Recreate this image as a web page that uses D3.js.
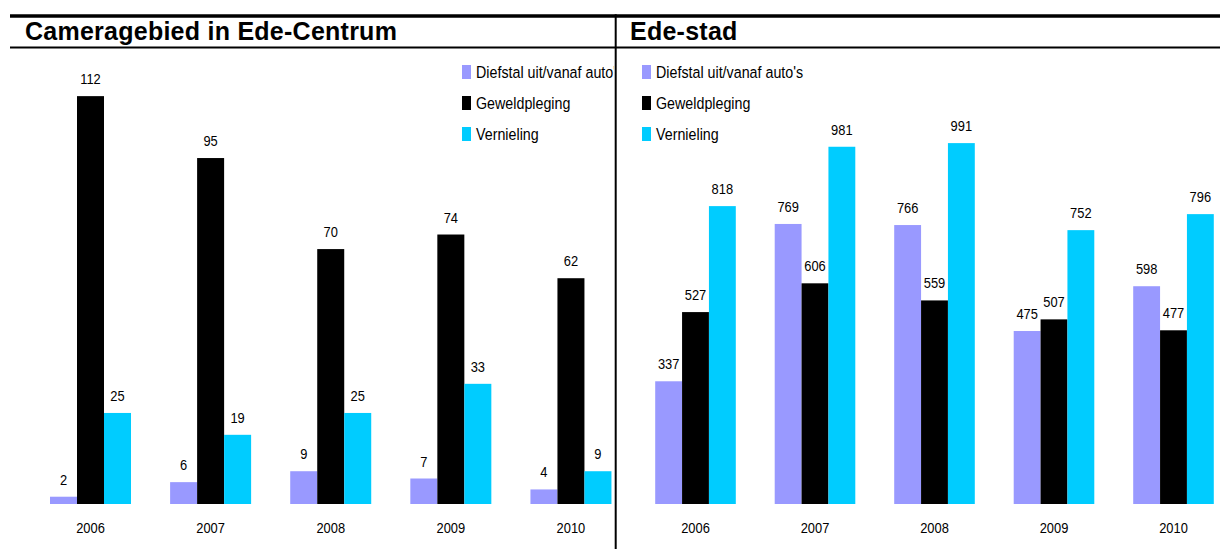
<!DOCTYPE html>
<html>
<head>
<meta charset="utf-8">
<script src="https://cdn.jsdelivr.net/npm/d3@7"></script>
<style>
  body { margin: 0; background: #fff; }
  svg { display: block; font-family: "Liberation Sans", Arial, sans-serif; }
</style>
</head>
<body>
<svg id="chart" width="1220" height="549"></svg>
<script>
// data
var years = ["2006", "2007", "2008", "2009", "2010"]
var series = ["Diefstal uit/vanaf auto's", "Geweldpleging", "Vernieling"]
var colors = ["#9999ff", "#000000", "#00ccff"]

var centrumDiefstal   = [2, 6, 9, 7, 4]
var centrumGeweld     = [112, 95, 70, 74, 62]
var centrumVernieling = [25, 19, 25, 33, 9]

var stadDiefstal   = [337, 769, 766, 475, 598]
var stadGeweld     = [527, 606, 559, 507, 477]
var stadVernieling = [818, 981, 991, 752, 796]

var panels = [
	{title: "Cameragebied in Ede-Centrum", titleX: 25, clip: [10, 614],
	 values: [centrumDiefstal, centrumGeweld, centrumVernieling], max: 120,
	 range: [30.45, 631], legendX: 462},
	{title: "Ede-stad", titleX: 630, clip: [617, 1220],
	 values: [stadDiefstal, stadGeweld, stadVernieling], max: 1200,
	 range: [635.75, 1233.25], legendX: 642}
]

var svg = d3.select("#chart"),
	baseline = 504,
	plotTop = 67,
	sx = 0.86;

var defs = svg.append("defs")

panels.forEach(function(p, i) {

	defs.append("clipPath").attr("id", "clip" + i)
		.append("rect")
		.attr("x", p.clip[0]).attr("y", 0)
		.attr("width", p.clip[1] - p.clip[0]).attr("height", 549)

	var g = svg.append("g").attr("clip-path", `url(#clip${i})`)

	var x0 = d3.scaleBand()
		.domain(years)
		.range(p.range)
		.paddingInner(0.3256)
		.paddingOuter(0.1628)

	var x1 = d3.scaleBand()
		.domain(series)
		.range([0, x0.bandwidth()])

	var y = d3.scaleLinear()
		.domain([0, p.max])
		.range([baseline, plotTop])

	var rows = years.map((yr, j) => ({
		year: yr,
		vals: series.map((s, k) => ({key: s, k: k, v: p.values[k][j]}))
	}))

	var groups = g.selectAll("g.grp")
		.data(rows)
	.enter().append("g")
		.attr("class", "grp")
		.attr("transform", d => `translate(${x0(d.year)},0)`)

	groups.selectAll("rect")
		.data(d => d.vals)
	.enter().append("rect")
		.attr("x", d => x1(d.key))
		.attr("y", d => y(d.v))
		.attr("width", x1.bandwidth())
		.attr("height", d => baseline - y(d.v))
		.attr("fill", d => colors[d.k])

	groups.selectAll("text.val")
		.data(d => d.vals)
	.enter().append("text")
		.attr("class", "val")
		.attr("text-anchor", "middle")
		.attr("font-size", 15)
		.attr("transform", d => `translate(${x1(d.key) + x1.bandwidth() / 2},${y(d.v) - 12}) scale(${sx},1)`)
		.text(d => d.v)

	// category labels
	var xAxis = d3.axisBottom(x0).tickSize(0).tickPadding(0)
	var ax = g.append("g")
		.attr("transform", `translate(0,${baseline})`)
		.call(xAxis)
	ax.select(".domain").remove()
	ax.selectAll("text")
		.attr("font-family", null)
		.attr("font-size", 15)
		.attr("fill", "#000")
		.attr("dy", null)
		.attr("y", null)
		.attr("transform", `translate(0,29) scale(${sx},1)`)

	// legend
	var leg = g.selectAll("g.leg")
		.data(series)
	.enter().append("g")
		.attr("class", "leg")
		.attr("transform", (d, k) => `translate(${p.legendX},${78 + k * 31})`)

	leg.append("rect")
		.attr("x", 0).attr("y", -13)
		.attr("width", 9).attr("height", 14)
		.attr("fill", (d, k) => colors[k])

	leg.append("text")
		.attr("font-size", 17)
		.attr("transform", `translate(14,0) scale(0.84,1)`)
		.text(d => d)

	// title
	svg.append("text")
		.attr("x", p.titleX)
		.attr("y", 40)
		.attr("font-size", 25)
		.attr("letter-spacing", 0.25)
		.attr("font-weight", "bold")
		.text(p.title)
})

// frame lines
svg.append("line").attr("x1", 10).attr("x2", 1220).attr("y1", 16).attr("y2", 16)
	.attr("stroke", "#000").attr("stroke-width", 3.4)
svg.append("line").attr("x1", 10).attr("x2", 1220).attr("y1", 47.5).attr("y2", 47.5)
	.attr("stroke", "#000").attr("stroke-width", 2.2)
svg.append("line").attr("x1", 615.7).attr("x2", 615.7).attr("y1", 14.3).attr("y2", 549)
	.attr("stroke", "#000").attr("stroke-width", 2)
</script>
</body>
</html>
